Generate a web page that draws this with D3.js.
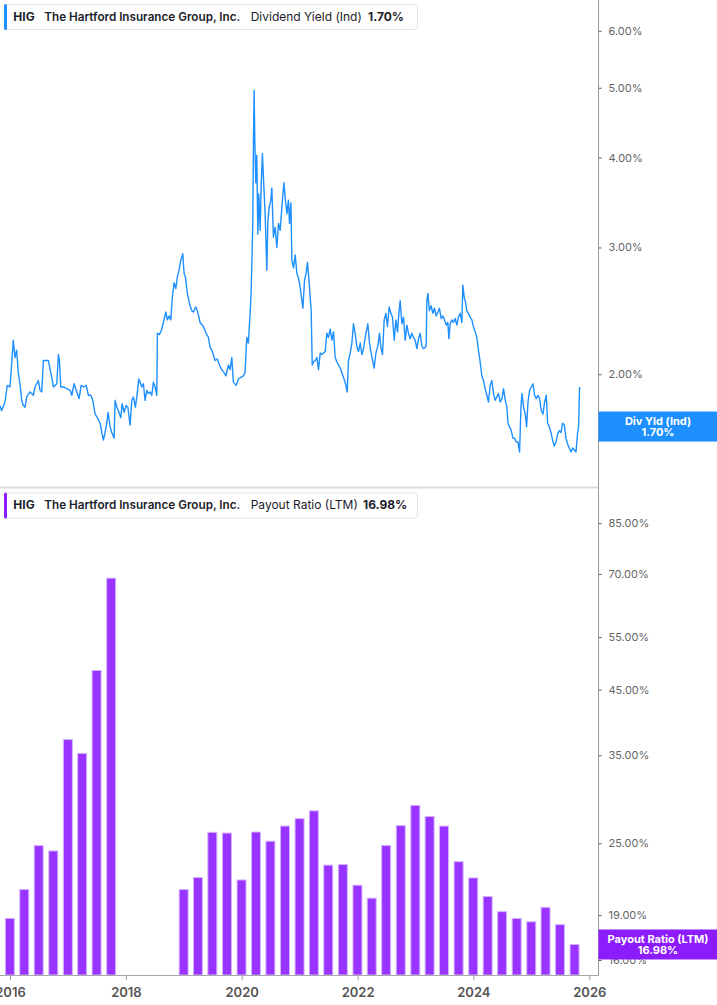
<!DOCTYPE html>
<html><head><meta charset="utf-8">
<script src="https://cdn.jsdelivr.net/npm/d3@7"></script>
<style>
html,body{margin:0;padding:0;background:#fff;}
svg{display:block;font-family:Inter,"Noto Sans",sans-serif;}
</style></head><body>
<svg id="chart" width="717" height="1005"></svg>
<script>
// ---------- data ----------
const ticker = "HIG";
const company = "The Hartford Insurance Group, Inc.";
const topSeriesName = "Dividend Yield (Ind)";
const topCurrent = 1.70;
const topTag = "Div Yld (Ind)";
const botSeriesName = "Payout Ratio (LTM)";
const botCurrent = 16.98;
const botTag = "Payout Ratio (LTM)";

const xTickYears = [2016, 2018, 2020, 2022, 2024, 2026];
const divTicks = [2, 3, 4, 5, 6];
const payoutTicks = [16, 19, 25, 35, 45, 55, 70, 85];

// dividend yield (%), sampled dates as decimal years
const divYears = [
2015.827,2015.856,2015.913,2015.953,2016.000,2016.029,2016.057,2016.086,2016.115,2016.143,
2016.172,2016.202,2016.229,2016.259,2016.288,2016.345,2016.402,2016.431,2016.488,2016.518,
2016.547,2016.575,2016.634,2016.661,2016.691,2016.720,2016.748,2016.806,2016.834,2016.851,
2016.875,2016.920,2016.979,2017.036,2017.065,2017.105,2017.152,2017.191,2017.226,2017.266,
2017.312,2017.352,2017.393,2017.428,2017.468,2017.507,2017.554,2017.583,2017.611,2017.640,
2017.670,2017.692,2017.727,2017.756,2017.796,2017.813,2017.843,2017.870,2017.912,2017.934,
2017.969,2018.003,2018.033,2018.072,2018.102,2018.129,2018.164,2018.188,2018.222,2018.245,
2018.274,2018.302,2018.331,2018.361,2018.388,2018.418,2018.447,2018.475,2018.504,2018.533,
2018.544,2018.578,2018.620,2018.647,2018.689,2018.716,2018.746,2018.775,2018.803,2018.832,
2018.862,2018.889,2018.918,2018.948,2018.982,2019.005,2019.027,2019.062,2019.096,2019.138,
2019.165,2019.207,2019.241,2019.281,
2019.338,2019.385,2019.425,2019.454,2019.494,2019.540,2019.580,2019.615,2019.656,2019.696,
2019.730,2019.770,2019.799,2019.829,2019.856,2019.903,2019.943,2019.984,2020.029,2020.058,
2020.088,2020.115,2020.145,2020.162,2020.179,2020.191,2020.202,2020.214,2020.226,2020.243,
2020.260,2020.278,2020.295,2020.318,2020.335,2020.357,2020.375,2020.404,2020.433,2020.451,
2020.473,2020.502,2020.519,2020.547,2020.576,2020.606,2020.634,2020.663,2020.692,2020.727,
2020.754,2020.779,2020.806,2020.824,2020.848,2020.865,2020.893,2020.922,2020.951,2020.979,
2021.008,2021.037,2021.055,2021.083,2021.112,2021.134,2021.164,2021.198,2021.216,2021.238,
2021.267,2021.297,2021.324,2021.354,2021.383,2021.411,2021.440,2021.469,2021.497,2021.526,
2021.556,2021.584,2021.613,2021.642,2021.670,2021.699,2021.728,2021.756,2021.791,2021.820,
2021.842,2021.872,2021.901,2021.929,2021.958,2021.988,2022.015,2022.045,2022.074,2022.102,
2022.131,2022.177,2022.205,2022.235,2022.264,2022.286,2022.316,2022.350,2022.378,2022.402,
2022.430,2022.459,2022.488,2022.516,2022.545,2022.575,2022.603,2022.632,2022.661,2022.689,
2022.713,2022.735,
2022.765,2022.793,2022.822,2022.851,2022.879,2022.908,2022.938,2022.965,2022.994,2023.024,
2023.052,2023.081,2023.110,2023.138,2023.167,2023.185,2023.196,2023.214,2023.241,2023.271,
2023.300,2023.328,2023.357,2023.387,2023.414,2023.444,2023.473,2023.501,2023.530,2023.559,
2023.577,2023.599,2023.628,2023.656,2023.685,2023.715,2023.742,2023.772,2023.801,2023.818,
2023.841,2023.863,2023.887,2023.915,2023.944,2023.974,2024.001,2024.031,2024.060,2024.087,
2024.117,2024.146,2024.174,2024.203,2024.233,2024.260,2024.290,2024.319,2024.347,2024.376,
2024.405,2024.433,2024.463,2024.492,2024.519,2024.549,2024.578,2024.596,2024.623,2024.653,
2024.682,2024.710,2024.739,2024.768,2024.796,2024.820,2024.837,2024.865,2024.894,2024.917,
2024.941,2024.969,2024.998,2025.027,2025.055,2025.084,2025.113,2025.141,2025.171,2025.200,
2025.228,2025.257,2025.280,2025.309,2025.338,2025.366,2025.395,2025.425,2025.452,2025.482,
2025.511,2025.539,2025.568,2025.597,2025.625,2025.654,2025.684,2025.711,2025.741,2025.770,
2025.798,2025.815,2025.832
];
const divYield = [
1.81,1.78,1.83,1.93,1.92,2.07,2.23,2.11,2.16,2.01,
1.94,1.84,1.81,1.80,1.86,1.89,1.87,1.92,1.96,1.90,
1.89,2.09,2.09,2.09,2.03,1.98,1.92,1.94,2.13,2.09,
1.92,1.92,1.91,1.90,1.87,1.94,1.89,1.85,1.93,1.92,
1.93,1.87,1.87,1.84,1.76,1.74,1.71,1.66,1.62,1.66,
1.71,1.77,1.69,1.66,1.63,1.84,1.80,1.78,1.74,1.82,
1.77,1.81,1.80,1.70,1.84,1.86,1.80,1.86,1.97,1.95,
1.92,1.94,1.84,1.90,1.88,1.89,1.87,1.95,1.92,1.87,
2.28,2.27,2.31,2.36,2.44,2.38,2.41,2.38,2.56,2.68,
2.63,2.73,2.79,2.88,2.94,2.76,2.73,2.59,2.51,2.45,
2.44,2.48,2.44,2.36,
2.33,2.28,2.25,2.18,2.15,2.09,2.10,2.06,2.03,2.01,
1.99,2.06,2.03,2.11,1.95,1.93,1.97,1.98,1.99,2.01,
2.25,2.21,2.43,2.59,2.94,3.24,4.13,4.96,4.22,3.69,
4.03,3.13,3.56,3.17,3.64,4.05,3.75,3.34,2.79,3.27,
3.41,3.49,3.63,3.10,3.20,3.00,3.24,3.17,3.41,3.69,
3.49,3.34,3.49,3.24,3.46,2.88,2.81,2.93,2.76,2.72,
2.64,2.53,2.47,2.70,2.77,2.86,2.67,2.45,2.06,2.08,
2.09,2.11,2.03,2.14,2.13,2.14,2.15,2.28,2.25,2.31,
2.23,2.29,2.11,2.08,2.06,2.04,2.01,1.98,1.94,1.89,
2.09,2.14,2.21,2.35,2.28,2.18,2.15,2.21,2.13,2.17,
2.25,2.35,2.21,2.14,2.08,2.04,2.14,2.19,2.28,2.18,
2.13,2.38,2.43,2.33,2.48,2.43,2.40,2.23,2.38,2.29,
2.43,2.53,
2.35,2.40,2.23,2.34,2.28,2.24,2.28,2.25,2.23,2.17,
2.24,2.28,2.19,2.17,2.18,2.19,2.53,2.59,2.45,2.49,
2.43,2.47,2.41,2.44,2.47,2.39,2.41,2.38,2.34,2.36,
2.24,2.35,2.38,2.36,2.39,2.34,2.40,2.43,2.36,2.66,
2.56,2.52,2.45,2.43,2.40,2.38,2.33,2.29,2.25,2.16,
2.08,1.99,1.96,1.91,1.87,1.83,1.93,1.96,1.88,1.84,
1.86,1.88,1.83,1.85,1.91,1.84,1.80,1.71,1.69,1.67,
1.63,1.63,1.61,1.61,1.56,1.80,1.88,1.80,1.76,1.69,
1.83,1.90,1.92,1.94,1.87,1.85,1.87,1.85,1.78,1.76,
1.83,1.87,1.71,1.69,1.66,1.62,1.59,1.61,1.65,1.67,
1.66,1.71,1.70,1.63,1.60,1.58,1.56,1.58,1.57,1.56,
1.66,1.69,1.92
];

// payout ratio (LTM, %), quarter ends
const payoutDates = [
"2015-12-31","2016-03-31","2016-06-30","2016-09-30","2016-12-31","2017-03-31","2017-06-30","2017-09-30",
"2018-12-31","2019-03-31","2019-06-30","2019-09-30","2019-12-31","2020-03-31","2020-06-30","2020-09-30",
"2020-12-31","2021-03-31","2021-06-30","2021-09-30","2021-12-31","2022-03-31","2022-06-30","2022-09-30",
"2022-12-31","2023-03-31","2023-06-30","2023-09-30","2023-12-31","2024-03-31","2024-06-30","2024-09-30",
"2024-12-31","2025-03-31","2025-06-30","2025-09-30"
];
const payoutValues = [
18.76,20.95,24.78,24.28,37.17,35.25,48.4,68.9,
20.95,21.93,26.07,26.0,21.73,26.1,25.2,26.7,
27.47,28.3,23.0,23.05,21.3,20.27,24.8,26.75,
28.9,27.7,26.7,23.3,21.9,20.4,19.25,18.76,
18.52,19.57,18.32,16.98
];

// ---------- chart ----------
const BLUE = "#1e8fff", PURPLE = "#9933ff", PURPLE_TAG = "#8c1cfb";
const plotR = 598.5, baseY = 975;
const svg = d3.select("#chart");
svg.append("rect").attr("width", 717).attr("height", 1005).attr("fill", "#fff");

function decYear(t){
  const y = Math.floor(t);
  const s = Date.UTC(y,0,1), e = Date.UTC(y+1,0,1);
  return new Date(s + (t - y) * (e - s));
}
const x = d3.scaleUtc()
  .domain([new Date(Date.UTC(2016,0,1)), new Date(Date.UTC(2026,0,1))])
  .range([10, 589.3]);
const yTop = d3.scaleLog().domain([1.39, 6.62]).range([488, 0]);
const yBot = d3.scaleLog().domain([15.11, 96.5]).range([baseY, 490]);

const defs = svg.append("defs");
defs.append("clipPath").attr("id","clipTop").append("rect").attr("x",0).attr("y",0).attr("width",plotR).attr("height",486);
defs.append("clipPath").attr("id","clipBot").append("rect").attr("x",0).attr("y",489).attr("width",plotR).attr("height",baseY-489);

// separator between panels
svg.append("line").attr("x1",0).attr("x2",plotR).attr("y1",487.5).attr("y2",487.5)
  .attr("stroke","#dedede").attr("stroke-width",2);

// top line
const n = Math.min(divYears.length, divYield.length);
const lineData = d3.range(n).map(i => ({d: decYear(divYears[i]), v: divYield[i]}));
svg.append("path").datum(lineData)
  .attr("clip-path","url(#clipTop)")
  .attr("fill","none").attr("stroke",BLUE).attr("stroke-width",1.4)
  .attr("stroke-linejoin","round")
  .attr("d", d3.line().x(p => x(p.d)).y(p => yTop(p.v)));

// bars
const parse = d3.utcParse("%Y-%m-%d");
const barData = payoutDates.map((s,i) => ({d: parse(s), v: payoutValues[i]}));
svg.append("g").attr("clip-path","url(#clipBot)")
  .selectAll("rect").data(barData).join("rect")
  .attr("x", b => x(b.d) - 4.5).attr("width", 9)
  .attr("y", b => yBot(b.v)).attr("height", b => baseY - yBot(b.v))
  .attr("fill", PURPLE).attr("stroke","#d4b3ff").attr("stroke-width",1);

// right axes
function styleAxis(g){
  g.select(".domain").remove();
  g.selectAll(".tick line").attr("stroke","#555");
  g.selectAll(".tick text").attr("fill","#666").attr("font-size",11)
    .attr("font-family",'Inter,"Noto Sans",sans-serif');
}
svg.append("g").attr("transform",`translate(${plotR},0)`)
  .call(d3.axisRight(yTop).tickValues(divTicks).tickSize(3).tickPadding(7)
    .tickFormat(d => d.toFixed(2) + "%"))
  .call(styleAxis);
svg.append("g").attr("transform",`translate(${plotR},0)`)
  .call(d3.axisRight(yBot).tickValues(payoutTicks).tickSize(3).tickPadding(7)
    .tickFormat(d => d.toFixed(2) + "%"))
  .call(styleAxis);
svg.append("line").attr("x1",plotR).attr("x2",plotR).attr("y1",0).attr("y2",baseY+0.5)
  .attr("stroke","#9a9a9a").attr("stroke-width",1);

// bottom time axis
const xAxisG = svg.append("g").attr("transform",`translate(0,${baseY})`)
  .call(d3.axisBottom(x).tickValues(xTickYears.map(yv => new Date(Date.UTC(yv,0,1))))
    .tickSize(5).tickPadding(8).tickFormat(d3.utcFormat("%Y")));
xAxisG.select(".domain").remove();
xAxisG.selectAll(".tick line").attr("stroke","#9a9a9a");
xAxisG.selectAll(".tick text").attr("fill","#555").attr("font-size",13).attr("font-weight",600)
  .attr("font-family",'Inter,"Noto Sans",sans-serif');
svg.append("line").attr("x1",0).attr("x2",plotR).attr("y1",baseY+0.5).attr("y2",baseY+0.5)
  .attr("stroke","#a8a8a8").attr("stroke-width",1);

// value tags on right
function tag(yc, color, l1, l2){
  const g = svg.append("g");
  g.append("rect").attr("x",plotR).attr("y",yc-15).attr("width",717-plotR).attr("height",30).attr("fill",color);
  const t = g.append("text").attr("text-anchor","middle")
    .attr("fill","#fff").attr("font-size",11).attr("font-weight",700);
  t.append("tspan").attr("x",658).attr("y",yc-1.5).text(l1);
  t.append("tspan").attr("x",658).attr("y",yc+9.5).text(l2);
}
tag(yTop(topCurrent)+1.5, BLUE, topTag, topCurrent.toFixed(2) + "%");
tag(yBot(botCurrent), PURPLE_TAG, botTag, botCurrent.toFixed(2) + "%");

// legends
function legend(y0, color, series, value, valueX){
  const g = svg.append("g");
  g.append("rect").attr("x",4.5).attr("y",y0+0.5).attr("width",413).attr("height",25)
    .attr("rx",2).attr("fill","#fff").attr("stroke","#e4e4e4");
  g.append("rect").attr("x",4).attr("y",y0).attr("width",3).attr("height",26).attr("rx",1.5).attr("fill",color);
  const base = y0 + 16.5;
  const txt = (s, xx, w) => g.append("text").attr("x", xx).attr("y", base)
      .attr("fill","#1d1d2b").attr("font-size",12).attr("font-weight",w).text(s);
  txt(ticker, 13.3, 700);
  txt(company, 44.3, 600).attr("textLength",196).attr("lengthAdjust","spacingAndGlyphs");
  txt(series, 250.7, 400);
  txt(value, valueX, 700);
}
legend(4, BLUE, topSeriesName, topCurrent.toFixed(2) + "%", 368);
legend(492.5, PURPLE_TAG, botSeriesName, botCurrent.toFixed(2) + "%", 363);
</script>
</body></html>
